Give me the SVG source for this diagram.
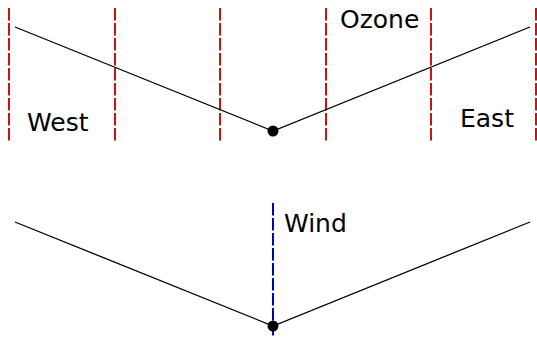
<svg xmlns="http://www.w3.org/2000/svg" width="537" height="337" viewBox="0 0 537 337">
  <style>
    .band { stroke: #cc1111; stroke-width: 2; stroke-dasharray: 12.5 2.5; fill: none; }
    .wind { stroke: #0000bb; stroke-width: 2; stroke-dasharray: 12.5 2.5; fill: none; }
    .curve { stroke: #000; stroke-width: 1.3; fill: none; }
    .dot { fill: #000; }
    .label { font-family: "DejaVu Sans", sans-serif; font-size: 25px; fill: #000; }
  </style>
  <rect width="537" height="337" fill="#fff"/>
  <!-- vertical ozone band boundaries -->
  <g id="bands">
    <line class="band" x1="9" y1="8" x2="9" y2="143"/>
    <line class="band" x1="115" y1="8" x2="115" y2="143"/>
    <line class="band" x1="220" y1="8" x2="220" y2="143"/>
    <line class="band" x1="326" y1="8" x2="326" y2="143"/>
    <line class="band" x1="431" y1="8" x2="431" y2="143"/>
    <line class="band" x1="536" y1="8" x2="536" y2="143"/>
  </g>
  <g id="connectors">
    <polyline class="curve" points="15,27 273,131 530,27"/>
    <polyline class="curve" points="15,222 273,326 530,222"/>
    <line class="wind" x1="273" y1="203" x2="273" y2="337"/>
  </g>
  <g id="top-node"><circle class="dot" cx="273" cy="131" r="5.5"/></g>
  <g id="bottom-node"><circle class="dot" cx="273" cy="326" r="5.5"/></g>
  <g id="labels">
    <text class="label" x="27" y="131">West</text>
    <text class="label" x="340" y="28">Ozone</text>
    <text class="label" x="460" y="127">East</text>
    <text class="label" x="284" y="232">Wind</text>
  </g>
</svg>
